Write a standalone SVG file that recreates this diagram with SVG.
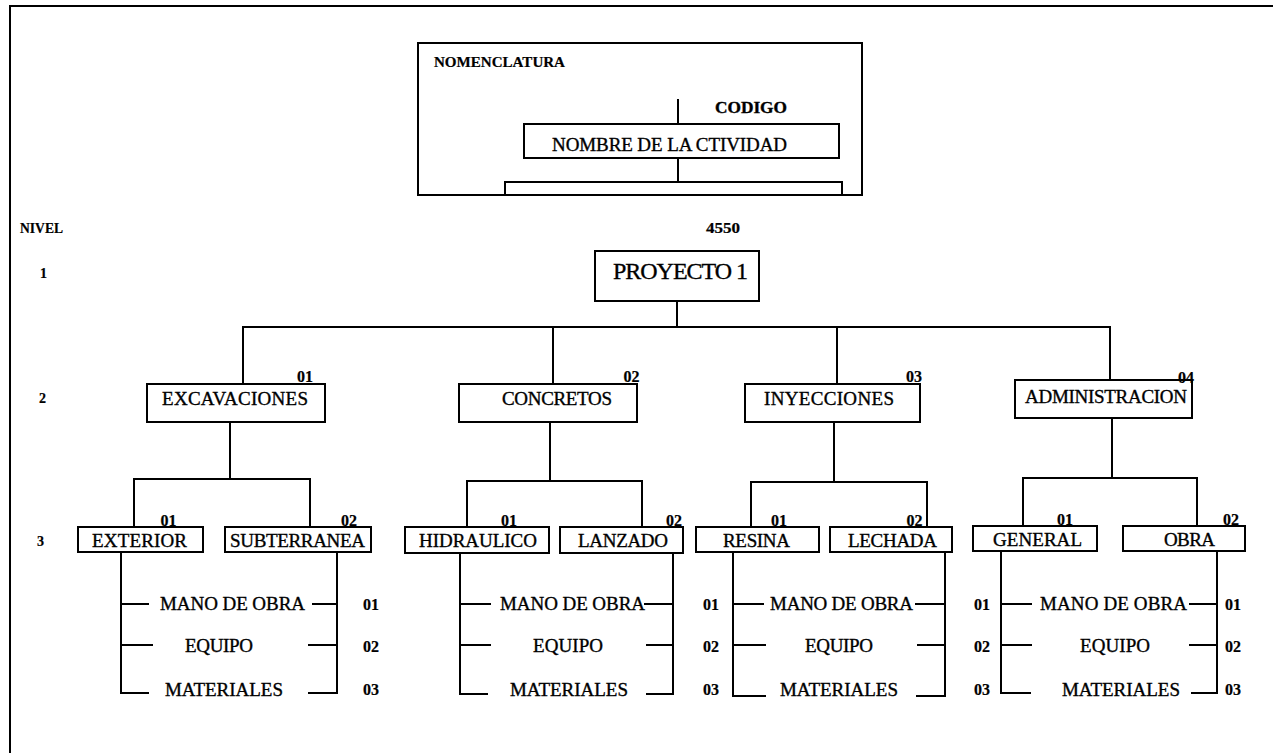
<svg xmlns="http://www.w3.org/2000/svg" width="1273" height="753" viewBox="0 0 1273 753">
  <style>
    .ln { fill: none; stroke: #000; stroke-width: 2; stroke-linecap: square; }
    .bx { fill: #fff; stroke: #000; stroke-width: 2; }
    text { font-family: "Liberation Serif", "Times New Roman", serif; fill: #000; stroke: #000; stroke-width: 0.35; }
    .lbl { font-size: 19px; text-anchor: middle; }
    .big { font-size: 24px; text-anchor: middle; }
    .code { font-size: 16px; font-weight: bold; text-anchor: middle; stroke-width: 0.2; }
    .res { font-size: 19px; text-anchor: middle; }
    .num { font-size: 16px; font-weight: bold; text-anchor: middle; stroke-width: 0.2; }
    .side { font-size: 14px; font-weight: bold; stroke-width: 0.2; }
  </style>

  <!-- page frame -->
  <path class="ln" d="M10,752 V6 H1273"/>

  <!-- legend -->
  <g id="legend">
    <rect class="bx" x="418" y="43" width="444" height="152"/>
    <text x="434" y="67" class="side" font-size="13" textLength="131" lengthAdjust="spacingAndGlyphs">NOMENCLATURA</text>
    <path class="ln" d="M678,100 V124 M678,158 V182 M505,195 V182 H842 V195"/>
    <text x="715" y="113" font-size="16" font-weight="bold" stroke-width="0.2" textLength="72" lengthAdjust="spacingAndGlyphs">CODIGO</text>
    <rect class="bx" x="524" y="124" width="315" height="34"/>
    <text x="669.5" y="151" class="lbl" textLength="235">NOMBRE DE LA CTIVIDAD</text>
  </g>

  <!-- level labels -->
  <g id="levels">
    <text x="20" y="233" class="side" textLength="43" lengthAdjust="spacingAndGlyphs">NIVEL</text>
    <text x="40" y="278" class="side" font-size="16">1</text>
    <text x="39" y="403" class="side" font-size="16">2</text>
    <text x="37" y="546" class="side" font-size="16">3</text>
  </g>

  <!-- connectors -->
  <g id="connectors" class="ln">
    <!-- level 1 to level 2 -->
    <path d="M677,301 V327 M243,384 V327 H1110 V380 M553,327 V384 M837,327 V384"/>
    <!-- level 2 to level 3 -->
    <path d="M230,422 V479 M134,527 V479 H310 V527"/>
    <path d="M550,422 V481 M467,527 V481 H642 V527"/>
    <path d="M834,422 V482 M751,527 V482 H927 V527"/>
    <path d="M1112,418 V478 M1023,526 V478 H1197 V526"/>
    <!-- resource brackets -->
    <path d="M121,552 V693 H148 M121,604 H148 M121,645 H152 M337,552 V693 H309 M337,604 H313 M337,645 H309"/>
    <path d="M460,553 V694 H487 M460,604 H490 M460,645 H490 M673,553 V694 H647 M673,604 H645 M673,645 H647"/>
    <path d="M733,552 V696 H765 M733,604 H763 M733,645 H765 M945,552 V696 H917 M945,604 H916 M945,645 H918"/>
    <path d="M1001,551 V693 H1030 M1001,604 H1031 M1001,645 H1031 M1217,551 V693 H1192 M1217,604 H1190 M1217,645 H1190"/>
  </g>

  <!-- level 1 -->
  <g id="proyecto">
    <text x="723" y="233" class="side" font-size="15" text-anchor="middle" textLength="34" lengthAdjust="spacingAndGlyphs">4550</text>
    <rect class="bx" x="595" y="251" width="164" height="50"/>
    <text x="680.5" y="279" class="big" textLength="135">PROYECTO 1</text>
  </g>

  <!-- level 2 -->
  <g id="excavaciones">
    <text x="305" y="382" class="code">01</text>
    <rect class="bx" x="147" y="384" width="178" height="38"/>
    <text x="235" y="405" class="lbl" textLength="146">EXCAVACIONES</text>
  </g>
  <g id="concretos">
    <text x="631.5" y="382" class="code">02</text>
    <rect class="bx" x="459" y="384" width="178" height="38"/>
    <text x="557" y="405" class="lbl" textLength="110">CONCRETOS</text>
  </g>
  <g id="inyecciones">
    <text x="914" y="382" class="code">03</text>
    <rect class="bx" x="745" y="384" width="175" height="38"/>
    <text x="829" y="405" class="lbl" textLength="130">INYECCIONES</text>
  </g>
  <g id="administracion">
    <text x="1186" y="383" class="code">04</text>
    <rect class="bx" x="1015" y="380" width="177" height="38" fill-opacity="0"/>
    <text x="1106" y="403" class="lbl" textLength="162">ADMINISTRACION</text>
  </g>

  <!-- level 3 -->
  <g id="exterior">
    <text x="168.5" y="526" class="code">01</text>
    <rect class="bx" x="78" y="527" width="125" height="25"/>
    <text x="139.5" y="547" class="lbl" textLength="95">EXTERIOR</text>
  </g>
  <g id="subterranea">
    <text x="349" y="526" class="code">02</text>
    <rect class="bx" x="225" y="527" width="146" height="25"/>
    <text x="297.5" y="547" class="lbl" textLength="135">SUBTERRANEA</text>
  </g>
  <g id="hidraulico">
    <text x="509" y="526" class="code">01</text>
    <rect class="bx" x="405" y="527" width="144" height="26"/>
    <text x="478" y="547" class="lbl" textLength="118">HIDRAULICO</text>
  </g>
  <g id="lanzado">
    <text x="674" y="526" class="code">02</text>
    <rect class="bx" x="560" y="527" width="123" height="26"/>
    <text x="623" y="547" class="lbl" textLength="90">LANZADO</text>
  </g>
  <g id="resina">
    <text x="779" y="526" class="code">01</text>
    <rect class="bx" x="696" y="527" width="123" height="25"/>
    <text x="756.5" y="547" class="lbl" textLength="67">RESINA</text>
  </g>
  <g id="lechada">
    <text x="914.5" y="526" class="code">02</text>
    <rect class="bx" x="830" y="527" width="122" height="25"/>
    <text x="892.5" y="547" class="lbl" textLength="89">LECHADA</text>
  </g>
  <g id="general">
    <text x="1065" y="525" class="code">01</text>
    <rect class="bx" x="973" y="526" width="124" height="25"/>
    <text x="1037.5" y="546" class="lbl" textLength="89">GENERAL</text>
  </g>
  <g id="obra">
    <text x="1231" y="525" class="code">02</text>
    <rect class="bx" x="1123" y="526" width="122" height="25"/>
    <text x="1189.5" y="546" class="lbl" textLength="51">OBRA</text>
  </g>

  <!-- resources: excavaciones -->
  <g id="recursos-excavaciones">
    <text x="232.5" y="610" class="res" textLength="145">MANO DE OBRA</text>
    <text x="219" y="652" class="res" textLength="68">EQUIPO</text>
    <text x="224" y="696" class="res" textLength="118">MATERIALES</text>
    <text x="371" y="610" class="num">01</text>
    <text x="371" y="652" class="num">02</text>
    <text x="371" y="695" class="num">03</text>
  </g>
  <!-- resources: concretos -->
  <g id="recursos-concretos">
    <text x="572.5" y="610" class="res" textLength="145">MANO DE OBRA</text>
    <text x="568" y="652" class="res" textLength="70">EQUIPO</text>
    <text x="569" y="696" class="res" textLength="118">MATERIALES</text>
    <text x="711" y="610" class="num">01</text>
    <text x="711" y="652" class="num">02</text>
    <text x="711" y="695" class="num">03</text>
  </g>
  <!-- resources: inyecciones -->
  <g id="recursos-inyecciones">
    <text x="841.5" y="610" class="res" textLength="143">MANO DE OBRA</text>
    <text x="839" y="652" class="res" textLength="68">EQUIPO</text>
    <text x="839" y="696" class="res" textLength="118">MATERIALES</text>
    <text x="982" y="610" class="num">01</text>
    <text x="982" y="652" class="num">02</text>
    <text x="982" y="695" class="num">03</text>
  </g>
  <!-- resources: administracion -->
  <g id="recursos-administracion">
    <text x="1113.5" y="610" class="res" textLength="147">MANO DE OBRA</text>
    <text x="1115" y="652" class="res" textLength="70">EQUIPO</text>
    <text x="1121" y="696" class="res" textLength="118">MATERIALES</text>
    <text x="1233" y="610" class="num">01</text>
    <text x="1233" y="652" class="num">02</text>
    <text x="1233" y="695" class="num">03</text>
  </g>
</svg>
